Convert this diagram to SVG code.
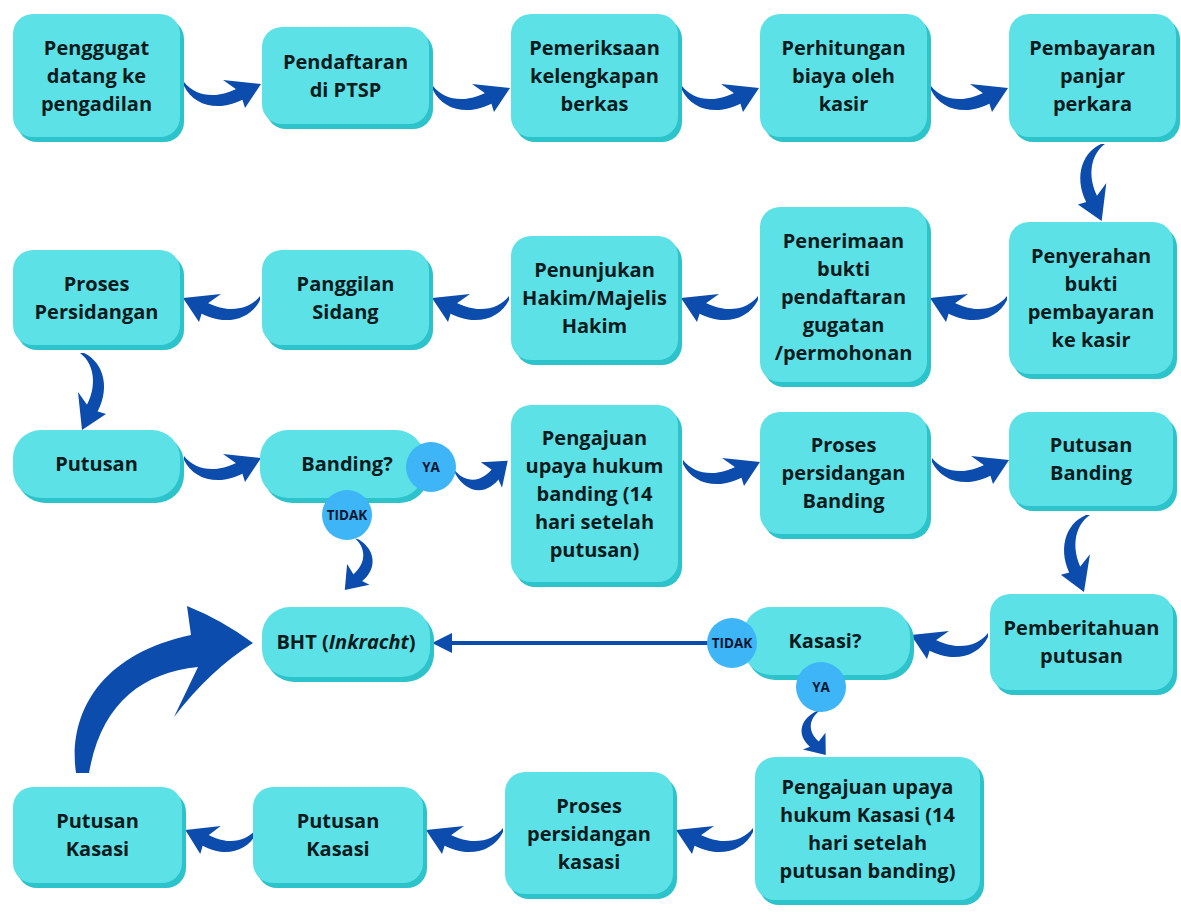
<svg xmlns="http://www.w3.org/2000/svg" xmlns:xlink="http://www.w3.org/1999/xlink" width="1181" height="912" viewBox="0 0 1181 912">
<style>
.box{fill:#5ce1e6}
.sh{fill:#2cc3cb}
.t{font-family:"Open Sans","Liberation Sans",sans-serif;font-weight:700;font-size:20px;fill:#0b1b1d;text-anchor:middle}
.c{fill:#3db5f6}
.ct{font-family:"Open Sans","Liberation Sans",sans-serif;font-weight:700;font-size:13.5px;fill:#0b1630;text-anchor:middle}
.arr{fill:#0b4cad}
</style>
<defs>
<g id="ar">
<path d="M0,-2 C12,14 38,16 60,0 L63,13 C38,29 10,23 0,2 Z"/>
<path d="M39,-4 L77,0 L61,24 L56,8 Z"/>
</g>
</defs>
<rect width="1181" height="912" fill="#ffffff"/>

<g id="connectors" class="arr">
<use xlink:href="#ar" href="#ar" transform="translate(184,84)"/>
<use xlink:href="#ar" href="#ar" transform="translate(433,88)"/>
<use xlink:href="#ar" href="#ar" transform="translate(682,88)"/>
<use xlink:href="#ar" href="#ar" transform="translate(931,88)"/>
<use xlink:href="#ar" href="#ar" transform="translate(1103,144) rotate(91)"/>
<use xlink:href="#ar" href="#ar" transform="translate(1007,298) scale(-1,1)"/>
<use xlink:href="#ar" href="#ar" transform="translate(758,298) scale(-1,1)"/>
<use xlink:href="#ar" href="#ar" transform="translate(509,298) scale(-1,1)"/>
<use xlink:href="#ar" href="#ar" transform="translate(260,298) scale(-1,1)"/>
<use xlink:href="#ar" href="#ar" transform="translate(82,353) rotate(90) scale(1,-1)"/>
<use xlink:href="#ar" href="#ar" transform="translate(184,458)"/>
<use xlink:href="#ar" href="#ar" transform="translate(455,472) rotate(-12) scale(0.7,1.05)"/>
<use xlink:href="#ar" href="#ar" transform="translate(683,462)"/>
<use xlink:href="#ar" href="#ar" transform="translate(932,460)"/>
<use xlink:href="#ar" href="#ar" transform="translate(357,539) rotate(103.5) scale(0.68,-0.95)"/>
<use xlink:href="#ar" href="#ar" transform="translate(1088,515) rotate(93)"/>
<use xlink:href="#ar" href="#ar" transform="translate(988,635) scale(-1,1)"/>
<line x1="708" y1="643" x2="448" y2="643" stroke="#0b4cad" stroke-width="4"/>
<path d="M432,643 L452,633 L452,653 Z"/>
<use xlink:href="#ar" href="#ar" transform="translate(818,711) rotate(80) scale(0.58,0.9)"/>
<use xlink:href="#ar" href="#ar" transform="translate(753,830) scale(-1,1)"/>
<use xlink:href="#ar" href="#ar" transform="translate(503,830) scale(-1,1)"/>
<use xlink:href="#ar" href="#ar" transform="translate(257,830) scale(-0.93,1)"/>
<path d="M76,773 C68,718 96,655 191,635 L187,606 Q222,620 253,643 Q210,670 174,717 L198,667 C140,673 101,705 89,773 Z"/>
</g>

<g id="n1"><rect class="sh" x="17" y="19" width="167" height="123" rx="20"/><rect class="box" x="13" y="14" width="167" height="123" rx="20"/>
<text class="t"><tspan x="96.5" y="54.5">Penggugat</tspan><tspan x="96.5" y="82.5">datang ke</tspan><tspan x="96.5" y="110.5">pengadilan</tspan></text></g>

<g id="n2"><rect class="sh" x="266" y="32" width="167" height="97" rx="20"/><rect class="box" x="262" y="27" width="167" height="97" rx="20"/>
<text class="t"><tspan x="345.5" y="68.5">Pendaftaran</tspan><tspan x="345.5" y="96.5">di PTSP</tspan></text></g>

<g id="n3"><rect class="sh" x="515" y="19" width="167" height="123" rx="20"/><rect class="box" x="511" y="14" width="167" height="123" rx="20"/>
<text class="t"><tspan x="594.5" y="54.5">Pemeriksaan</tspan><tspan x="594.5" y="82.5">kelengkapan</tspan><tspan x="594.5" y="110.5">berkas</tspan></text></g>

<g id="n4"><rect class="sh" x="764" y="19" width="167" height="123" rx="20"/><rect class="box" x="760" y="14" width="167" height="123" rx="20"/>
<text class="t"><tspan x="843.5" y="54.5">Perhitungan</tspan><tspan x="843.5" y="82.5">biaya oleh</tspan><tspan x="843.5" y="110.5">kasir</tspan></text></g>

<g id="n5"><rect class="sh" x="1013" y="19" width="167" height="123" rx="20"/><rect class="box" x="1009" y="14" width="167" height="123" rx="20"/>
<text class="t"><tspan x="1092.5" y="54.5">Pembayaran</tspan><tspan x="1092.5" y="82.5">panjar</tspan><tspan x="1092.5" y="110.5">perkara</tspan></text></g>

<g id="n6"><rect class="sh" x="1013" y="227" width="164" height="152" rx="20"/><rect class="box" x="1009" y="222" width="164" height="152" rx="20"/>
<text class="t"><tspan x="1091" y="263">Penyerahan</tspan><tspan x="1091" y="291">bukti</tspan><tspan x="1091" y="319">pembayaran</tspan><tspan x="1091" y="347">ke kasir</tspan></text></g>

<g id="n7"><rect class="sh" x="764" y="212" width="167" height="175" rx="20"/><rect class="box" x="760" y="207" width="167" height="175" rx="20"/>
<text class="t"><tspan x="843.5" y="248">Penerimaan</tspan><tspan x="843.5" y="276">bukti</tspan><tspan x="843.5" y="304">pendaftaran</tspan><tspan x="843.5" y="332">gugatan</tspan><tspan x="843.5" y="360">/permohonan</tspan></text></g>

<g id="n8"><rect class="sh" x="515" y="241" width="167" height="124" rx="20"/><rect class="box" x="511" y="236" width="167" height="124" rx="20"/>
<text class="t"><tspan x="594.5" y="277">Penunjukan</tspan><tspan x="594.5" y="305">Hakim/Majelis</tspan><tspan x="594.5" y="333">Hakim</tspan></text></g>

<g id="n9"><rect class="sh" x="266" y="255" width="167" height="95" rx="20"/><rect class="box" x="262" y="250" width="167" height="95" rx="20"/>
<text class="t"><tspan x="345.5" y="290.5">Panggilan</tspan><tspan x="345.5" y="318.5">Sidang</tspan></text></g>

<g id="n10"><rect class="sh" x="17" y="255" width="167" height="95" rx="20"/><rect class="box" x="13" y="250" width="167" height="95" rx="20"/>
<text class="t"><tspan x="96.5" y="290.5">Proses</tspan><tspan x="96.5" y="318.5">Persidangan</tspan></text></g>

<g id="n11"><rect class="sh" x="17" y="435" width="167" height="68" rx="28"/><rect class="box" x="13" y="430" width="167" height="68" rx="28"/>
<text class="t" x="96.5" y="471">Putusan</text></g>

<g id="n12"><rect class="sh" x="264" y="435" width="164" height="68" rx="28"/><rect class="box" x="260" y="430" width="164" height="68" rx="28"/>
<text class="t" x="347" y="471">Banding?</text>
<circle class="c" cx="431" cy="467" r="25"/><text class="ct" x="431" y="472">YA</text>
<circle class="c" cx="347" cy="515" r="25"/><text class="ct" x="347" y="520">TIDAK</text></g>

<g id="n13"><rect class="sh" x="515" y="410" width="167" height="177" rx="20"/><rect class="box" x="511" y="405" width="167" height="177" rx="20"/>
<text class="t"><tspan x="594.5" y="444.5">Pengajuan</tspan><tspan x="594.5" y="472.5">upaya hukum</tspan><tspan x="594.5" y="500.5">banding (14</tspan><tspan x="594.5" y="528.5">hari setelah</tspan><tspan x="594.5" y="556.5">putusan)</tspan></text></g>

<g id="n14"><rect class="sh" x="764" y="417" width="167" height="122" rx="20"/><rect class="box" x="760" y="412" width="167" height="122" rx="20"/>
<text class="t"><tspan x="843.5" y="452">Proses</tspan><tspan x="843.5" y="480">persidangan</tspan><tspan x="843.5" y="508">Banding</tspan></text></g>

<g id="n15"><rect class="sh" x="1013" y="417" width="164" height="94" rx="20"/><rect class="box" x="1009" y="412" width="164" height="94" rx="20"/>
<text class="t"><tspan x="1091" y="452">Putusan</tspan><tspan x="1091" y="480">Banding</tspan></text></g>

<g id="n16"><rect class="sh" x="994" y="599" width="183" height="96" rx="20"/><rect class="box" x="990" y="594" width="183" height="96" rx="20"/>
<text class="t"><tspan x="1081.5" y="635">Pemberitahuan</tspan><tspan x="1081.5" y="663">putusan</tspan></text></g>

<g id="n17"><rect class="sh" x="747" y="612" width="167" height="68" rx="28"/><rect class="box" x="743" y="607" width="167" height="68" rx="28"/>
<text class="t" x="825" y="648">Kasasi?</text>
<circle class="c" cx="732" cy="643" r="25"/><text class="ct" x="732" y="648">TIDAK</text>
<circle class="c" cx="821" cy="687" r="25"/><text class="ct" x="821" y="692">YA</text></g>

<g id="n18"><rect class="sh" x="266" y="612" width="168" height="70" rx="28"/><rect class="box" x="262" y="607" width="168" height="70" rx="28"/>
<text class="t" x="346" y="649">BHT (<tspan font-style="italic">Inkracht</tspan>)</text></g>

<g id="n19"><rect class="sh" x="759" y="762" width="225" height="143" rx="20"/><rect class="box" x="755" y="757" width="225" height="143" rx="20"/>
<text class="t"><tspan x="867.5" y="793.5">Pengajuan upaya</tspan><tspan x="867.5" y="821.5">hukum Kasasi (14</tspan><tspan x="867.5" y="849.5">hari setelah</tspan><tspan x="867.5" y="877.5">putusan banding)</tspan></text></g>

<g id="n20"><rect class="sh" x="509" y="777" width="168" height="122" rx="20"/><rect class="box" x="505" y="772" width="168" height="122" rx="20"/>
<text class="t"><tspan x="589" y="813">Proses</tspan><tspan x="589" y="841">persidangan</tspan><tspan x="589" y="869">kasasi</tspan></text></g>

<g id="n21"><rect class="sh" x="257" y="792" width="170" height="96" rx="20"/><rect class="box" x="253" y="787" width="170" height="96" rx="20"/>
<text class="t"><tspan x="338" y="828">Putusan</tspan><tspan x="338" y="856">Kasasi</tspan></text></g>

<g id="n22"><rect class="sh" x="17" y="792" width="169" height="96" rx="20"/><rect class="box" x="13" y="787" width="169" height="96" rx="20"/>
<text class="t"><tspan x="97.5" y="828">Putusan</tspan><tspan x="97.5" y="856">Kasasi</tspan></text></g>
</svg>
